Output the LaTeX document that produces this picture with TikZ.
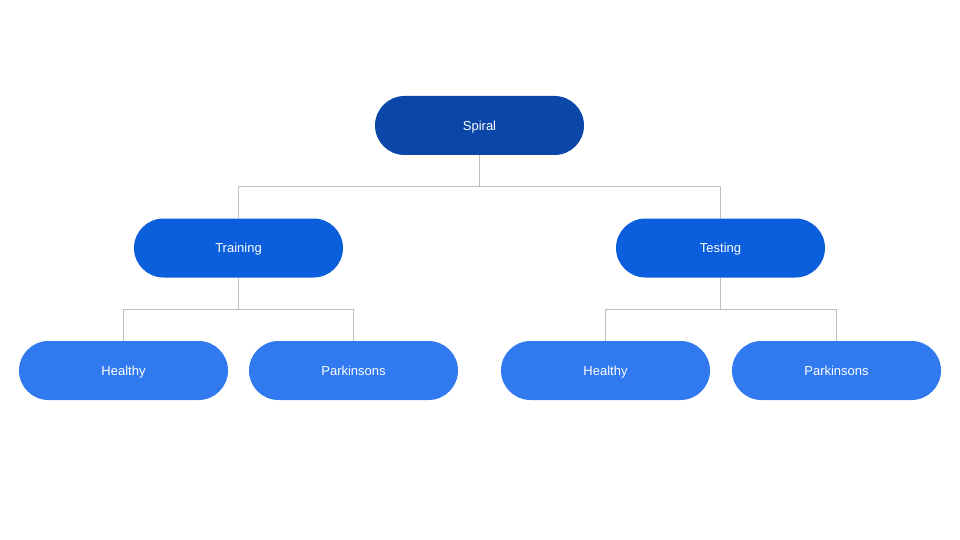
\documentclass[tikz,border=0pt]{standalone}
\usepackage{fontspec}
\setmainfont{Liberation Sans}
\definecolor{cTop}{HTML}{0B47A8}
\definecolor{cMid}{HTML}{0B5FDD}
\definecolor{cLeaf}{HTML}{3079EF}
\definecolor{cLine}{HTML}{BDBDBD}
\tikzset{
  pill/.style={rectangle, rounded corners=29.5pt, minimum width=209pt, minimum height=59pt, inner sep=0pt, text height=9.3pt, text depth=0pt, text=white, font=\fontsize{13}{15}\selectfont},
  toppill/.style={pill, fill=cTop},
  midpill/.style={pill, fill=cMid},
  leafpill/.style={pill, fill=cLeaf},
  conn/.style={draw=cLine, line width=1pt},
}
\begin{document}
\begin{tikzpicture}[x=1pt,y=-1pt]
\useasboundingbox[fill=white] (0,0) rectangle (960,540);
\node[toppill] (spiral) at (479.5,125.5) {Spiral};
\node[midpill] (train) at (238.5,248) {Training};
\node[midpill] (test) at (720.5,248) {Testing};
\node[leafpill] (h1) at (123.5,370.5) {Healthy};
\node[leafpill] (p1) at (353.5,370.5) {Parkinsons};
\node[leafpill] (h2) at (605.5,370.5) {Healthy};
\node[leafpill] (p2) at (836.5,370.5) {Parkinsons};
\draw[conn] (spiral.south) -- ++(0,31.5) -| (train.north);
\draw[conn] (spiral.south) -- ++(0,31.5) -| (test.north);
\draw[conn] (train.south) -- ++(0,31.5) -| (h1.north);
\draw[conn] (train.south) -- ++(0,31.5) -| (p1.north);
\draw[conn] (test.south) -- ++(0,31.5) -| (h2.north);
\draw[conn] (test.south) -- ++(0,31.5) -| (p2.north);
\end{tikzpicture}
\end{document}
